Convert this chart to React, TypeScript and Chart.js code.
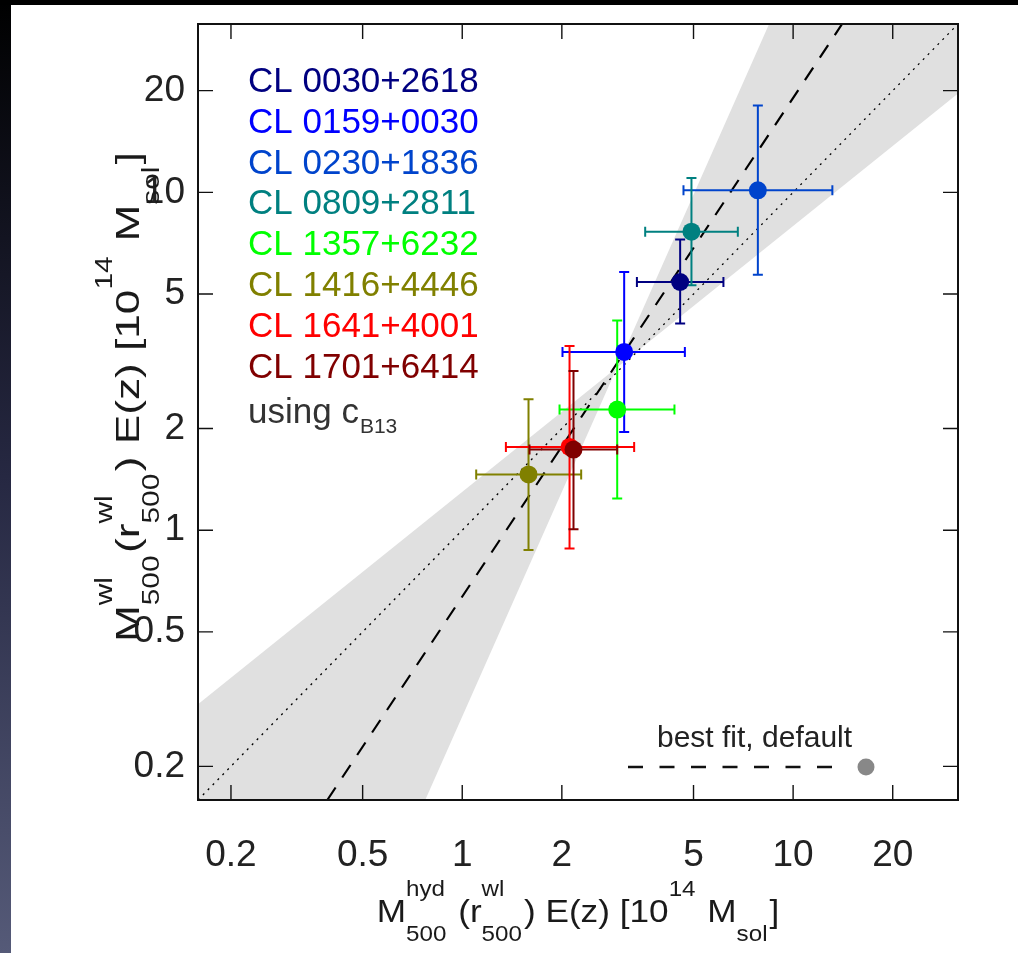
import React, { useEffect, useRef } from 'react';
import { Chart, registerables } from 'chart.js';

Chart.register(...registerables);

const FONT = '"Liberation Sans", Arial, Helvetica, sans-serif';

// ---- data ----
const clusterNames = [
  'CL 0030+2618',
  'CL 0159+0030',
  'CL 0230+1836',
  'CL 0809+2811',
  'CL 1357+6232',
  'CL 1416+4446',
  'CL 1641+4001',
  'CL 1701+6414',
];
const clusterColors = ['#000080', '#0000ff', '#0044cc', '#008080', '#00ff00', '#808000', '#ff0000', '#800000'];

const xMass = [4.556, 3.086, 7.824, 4.929, 2.94, 1.586, 2.11, 2.169];
const xLow = [3.372, 2.009, 4.663, 3.572, 1.968, 1.102, 1.355, 1.597];
const xHigh = [6.157, 4.708, 13.14, 6.806, 4.379, 2.288, 3.308, 2.94];
const yMass = [5.428, 3.369, 10.14, 7.65, 2.275, 1.462, 1.764, 1.733];
const yLow = [4.088, 1.953, 5.707, 5.307, 1.241, 0.873, 0.883, 1.007];
const yHigh = [7.247, 5.81, 18.09, 11.02, 4.173, 2.441, 3.511, 2.959];

const axisMin = 0.159;
const axisMax = 31.5;
const tickValues = [0.2, 0.5, 1, 2, 5, 10, 20];
const tickLabels = ['0.2', '0.5', '1', '2', '5', '10', '20'];

const oneToOneX = [0.159, 31.5];
const oneToOneY = [0.159, 31.5];
const bestFitX = [0.391, 14.06];
const bestFitY = [0.159, 31.5];
const bandX = [0.159, 0.159, 2.936, 8.46, 31.5, 31.5, 2.936, 0.773, 0.159];
const bandY = [0.159, 0.3056, 3.029, 31.5, 31.5, 19.63, 3.029, 0.159, 0.159];

type Piece = { t?: string; sup?: string; sub?: string };

const xTitle: Piece[] = [
  { t: 'M' },
  { sup: 'hyd', sub: '500' },
  { t: ' (r' },
  { sup: 'wl', sub: '500' },
  { t: ') E(z) [10' },
  { sup: '14' },
  { t: ' M' },
  { sub: 'sol' },
  { t: ']' },
];
const yTitle: Piece[] = [
  { t: 'M' },
  { sup: 'wl', sub: '500' },
  { t: '(r' },
  { sup: 'wl', sub: '500' },
  { t: ') E(z) [10' },
  { sup: '14' },
  { t: ' M' },
  { sub: 'sol' },
  { t: ']' },
];

function drawRich(
  ctx: CanvasRenderingContext2D,
  pieces: Piece[],
  big: number,
  small: number,
  up: number,
  down: number
) {
  const mainFont = `${big}px ${FONT}`;
  const smallFont = `${small}px ${FONT}`;
  const widths = pieces.map((p) => {
    if (p.t !== undefined) {
      ctx.font = mainFont;
      return ctx.measureText(p.t).width;
    }
    ctx.font = smallFont;
    return (
      Math.max(p.sup ? ctx.measureText(p.sup).width : 0, p.sub ? ctx.measureText(p.sub).width : 0) + small * 0.08
    );
  });
  const total = widths.reduce((a, b) => a + b, 0);
  let x = -total / 2;
  ctx.textAlign = 'left';
  ctx.textBaseline = 'alphabetic';
  pieces.forEach((p, i) => {
    if (p.t !== undefined) {
      ctx.font = mainFont;
      ctx.fillText(p.t, x, 0);
    } else {
      ctx.font = smallFont;
      if (p.sup) ctx.fillText(p.sup, x, -up);
      if (p.sub) ctx.fillText(p.sub, x, down);
    }
    x += widths[i];
  });
}

const decorPlugin = {
  id: 'decor',
  beforeDraw(chart: any) {
    const ctx: CanvasRenderingContext2D = chart.ctx;
    const W = chart.width;
    const H = chart.height;
    ctx.save();
    ctx.fillStyle = '#ffffff';
    ctx.fillRect(0, 0, W, H);
    const g = ctx.createLinearGradient(0, 0, 0, H);
    g.addColorStop(0, '#000000');
    g.addColorStop(0.5, '#262842');
    g.addColorStop(1, '#555a78');
    ctx.fillStyle = g;
    ctx.fillRect(0, 0, 11, H);
    ctx.fillStyle = '#000000';
    ctx.fillRect(0, 0, W, 5);
    ctx.restore();
  },
  beforeDatasetDraw(chart: any, args: any) {
    const ds = chart.data.datasets[args.index];
    if (ds.label !== 'clusters') return;
    const ctx: CanvasRenderingContext2D = chart.ctx;
    const xs = chart.scales.x;
    const ys = chart.scales.y;
    const cap = 5;
    ctx.save();
    ctx.lineWidth = 2;
    for (let i = 0; i < xMass.length; i++) {
      ctx.strokeStyle = clusterColors[i];
      const px = xs.getPixelForValue(xMass[i]);
      const py = ys.getPixelForValue(yMass[i]);
      const x0 = xs.getPixelForValue(xLow[i]);
      const x1 = xs.getPixelForValue(xHigh[i]);
      const y0 = ys.getPixelForValue(yLow[i]);
      const y1 = ys.getPixelForValue(yHigh[i]);
      ctx.beginPath();
      ctx.moveTo(x0, py);
      ctx.lineTo(x1, py);
      ctx.moveTo(x0, py - cap);
      ctx.lineTo(x0, py + cap);
      ctx.moveTo(x1, py - cap);
      ctx.lineTo(x1, py + cap);
      ctx.moveTo(px, y0);
      ctx.lineTo(px, y1);
      ctx.moveTo(px - cap, y0);
      ctx.lineTo(px + cap, y0);
      ctx.moveTo(px - cap, y1);
      ctx.lineTo(px + cap, y1);
      ctx.stroke();
    }
    ctx.restore();
  },
  afterDraw(chart: any) {
    const ctx: CanvasRenderingContext2D = chart.ctx;
    const a = chart.chartArea;
    const xs = chart.scales.x;
    const ys = chart.scales.y;
    ctx.save();
    // frame
    ctx.strokeStyle = '#111';
    ctx.lineWidth = 2;
    ctx.strokeRect(a.left, a.top, a.right - a.left, a.bottom - a.top);
    // inward ticks
    ctx.lineWidth = 1.4;
    const tl = 15;
    ctx.beginPath();
    tickValues.forEach((v) => {
      const px = xs.getPixelForValue(v);
      ctx.moveTo(px, a.bottom);
      ctx.lineTo(px, a.bottom - tl);
      ctx.moveTo(px, a.top);
      ctx.lineTo(px, a.top + tl);
      const py = ys.getPixelForValue(v);
      ctx.moveTo(a.left, py);
      ctx.lineTo(a.left + tl, py);
      ctx.moveTo(a.right, py);
      ctx.lineTo(a.right - tl, py);
    });
    ctx.stroke();

    // legend of clusters
    ctx.textAlign = 'left';
    ctx.textBaseline = 'alphabetic';
    ctx.font = `35px ${FONT}`;
    const lx = a.left + 50;
    clusterNames.forEach((name, i) => {
      ctx.fillStyle = clusterColors[i];
      ctx.fillText(name, lx, a.top + 68 + i * 40.8);
    });
    ctx.fillStyle = '#333';
    ctx.fillText('using c', lx, a.top + 399);
    const wu = ctx.measureText('using c').width;
    ctx.font = `21px ${FONT}`;
    ctx.fillText('B13', lx + wu + 1, a.top + 409);

    // best fit legend
    ctx.fillStyle = '#222';
    ctx.font = `30px ${FONT}`;
    ctx.fillText('best fit, default', a.right - 301, a.bottom - 53);
    ctx.strokeStyle = '#111';
    ctx.lineWidth = 2.4;
    ctx.setLineDash([15, 16.5]);
    ctx.beginPath();
    ctx.moveTo(a.right - 330, a.bottom - 33);
    ctx.lineTo(a.right - 124, a.bottom - 33);
    ctx.stroke();
    ctx.setLineDash([]);
    ctx.fillStyle = '#888888';
    ctx.beginPath();
    ctx.arc(a.right - 92, a.bottom - 33, 8.5, 0, Math.PI * 2);
    ctx.fill();

    // axis titles
    ctx.fillStyle = '#1a1a1a';
    ctx.save();
    ctx.translate(578, 922);
    ctx.scale(1.1, 1);
    drawRich(ctx, xTitle, 32, 22, 26, 19);
    ctx.restore();

    ctx.save();
    ctx.translate(139, 397);
    ctx.rotate(-Math.PI / 2);
    ctx.scale(1.3, 1);
    drawRich(ctx, yTitle, 34, 23, 27, 20);
    ctx.restore();

    ctx.restore();
  },
};

export default function App() {
  const ref = useRef<HTMLCanvasElement | null>(null);
  useEffect(() => {
    document.body.style.margin = '0';
    const canvas = ref.current;
    if (!canvas) return;
    const pts = (xv: number[], yv: number[]) => xv.map((x, i) => ({ x, y: yv[i] }));
    const chart = new Chart(canvas, {
      type: 'scatter',
      data: {
        datasets: [
          {
            label: 'clusters',
            data: pts(xMass, yMass),
            pointRadius: 9,
            pointHoverRadius: 9,
            pointBackgroundColor: clusterColors,
            pointBorderWidth: 0,
            borderWidth: 0,
            showLine: false,
            order: 0,
          } as any,
          {
            label: 'best fit',
            type: 'line',
            data: pts(bestFitX, bestFitY),
            borderColor: '#000',
            borderWidth: 2.2,
            borderDash: [15, 12],
            pointRadius: 0,
            fill: false,
            tension: 0,
            order: 2,
          } as any,
          {
            label: 'one-to-one',
            type: 'line',
            data: pts(oneToOneX, oneToOneY),
            borderColor: '#000',
            borderWidth: 1.3,
            borderDash: [2, 5],
            pointRadius: 0,
            fill: false,
            tension: 0,
            order: 3,
          } as any,
          {
            label: 'band',
            type: 'line',
            data: pts(bandX, bandY),
            borderColor: 'rgba(0,0,0,0)',
            borderWidth: 0,
            backgroundColor: '#e0e0e0',
            pointRadius: 0,
            fill: 'shape',
            tension: 0,
            order: 10,
          } as any,
        ],
      },
      options: {
        animation: false,
        responsive: false,
        devicePixelRatio: 1,
        events: [],
        layout: { padding: { left: 0, right: 60, top: 24, bottom: 0 } },
        plugins: { legend: { display: false }, tooltip: { enabled: false } },
        scales: {
          x: {
            type: 'logarithmic',
            position: 'bottom',
            min: axisMin,
            max: axisMax,
            grid: { display: false, drawTicks: false },
            border: { display: false },
            afterBuildTicks: (s: any) => {
              s.ticks = tickValues.map((v) => ({ value: v }));
            },
            afterFit: (s: any) => {
              s.height = 153;
              s.paddingLeft = 0;
              s.paddingRight = 0;
            },
            ticks: {
              autoSkip: false,
              maxRotation: 0,
              minRotation: 0,
              padding: 34,
              color: '#222',
              font: { family: FONT, size: 37 },
              callback: (v: any) => {
                const i = tickValues.indexOf(Number(v));
                return i >= 0 ? tickLabels[i] : '';
              },
            },
          },
          y: {
            type: 'logarithmic',
            position: 'left',
            min: axisMin,
            max: axisMax,
            grid: { display: false, drawTicks: false },
            border: { display: false },
            afterBuildTicks: (s: any) => {
              s.ticks = tickValues.map((v) => ({ value: v }));
            },
            afterFit: (s: any) => {
              s.width = 198;
              s.paddingTop = 0;
              s.paddingBottom = 0;
            },
            ticks: {
              autoSkip: false,
              padding: 13,
              color: '#222',
              font: { family: FONT, size: 37 },
              callback: (v: any) => {
                const i = tickValues.indexOf(Number(v));
                return i >= 0 ? tickLabels[i] : '';
              },
            },
          },
        },
      } as any,
      plugins: [decorPlugin],
    });
    return () => chart.destroy();
  }, []);
  return (
    <div style={{ position: 'relative', width: 1018, height: 953 }}>
      <canvas ref={ref} width={1018} height={953} style={{ display: 'block' }} />
    </div>
  );
}
